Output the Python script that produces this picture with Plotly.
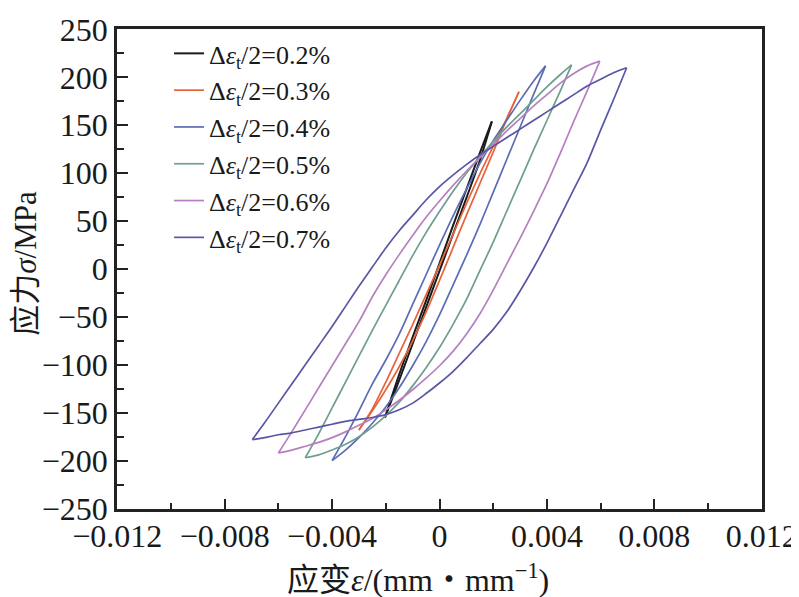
import plotly.graph_objects as go

# ---------------- data (strain in mm/mm, stress in MPa) ----------------
labels = ["0.2", "0.3", "0.4", "0.5", "0.6", "0.7"]
colors = ["#1b1b1b", "#e8623a", "#5b6db4", "#6e9e90", "#b67fc2", "#5757a6"]

# 0.2 %
a02_up_x = [-0.00203, -0.0015, -0.0010, -0.0005, 0.0, 0.0005, 0.0010, 0.0015, 0.00195]
a02_up_y = [-155, -116, -78, -40, -2, 36, 74, 113, 154]
a02_dn_x = [0.00195, 0.0015, 0.0010, 0.0005, 0.0, -0.0005, -0.0010, -0.0015, -0.00203]
a02_dn_y = [154, 121, 83, 45, 6, -33, -71, -110, -155]

# 0.3 %
a03_up_x = [-0.0030, -0.0025, -0.0020, -0.0015, -0.0010, -0.0005, 0.0, 0.0005, 0.0010, 0.0015, 0.0020, 0.0025, 0.00296]
a03_up_y = [-168, -146, -118, -88, -58, -27, 4, 36, 68, 99, 128, 157, 185]
a03_dn_x = [0.00296, 0.0025, 0.0020, 0.0015, 0.0010, 0.0005, 0.0, -0.0005, -0.0010, -0.0015, -0.0020, -0.0025, -0.0030]
a03_dn_y = [185, 156, 122, 89, 56, 22, -12, -45, -75, -102, -126, -148, -168]

# 0.4 %
a04_up_x = [-0.0040, -0.0035, -0.0030, -0.0025, -0.0020, -0.0015, -0.0010, -0.0005, 0.0, 0.0005,
            0.0010, 0.0015, 0.0020, 0.0025, 0.0030, 0.0035, 0.00395]
a04_up_y = [-200, -175, -148, -120, -95, -68, -37, -6, 25, 55, 83, 110, 134, 155, 176, 196, 212]
a04_dn_x = [0.00395, 0.0035, 0.0030, 0.0025, 0.0020, 0.0015, 0.0010, 0.0005, 0.0, -0.0005,
            -0.0010, -0.0015, -0.0020, -0.0025, -0.0030, -0.0035, -0.0040]
a04_dn_y = [212, 182, 148, 114, 80, 46, 14, -17, -48, -76, -101, -124, -144, -161, -176, -189, -200]

# 0.5 %
a05_up_x = [-0.0050, -0.0045, -0.0040, -0.0035, -0.0030, -0.0025, -0.0020, -0.0015, -0.0010, -0.0005, 0.0,
            0.0005, 0.0010, 0.0015, 0.0020, 0.0025, 0.0030, 0.0035, 0.0040, 0.0045, 0.00492]
a05_up_y = [-197, -172, -145, -118, -91, -64, -38, -12, 14, 38, 60, 81, 100, 117, 133, 148, 162, 176, 190, 203, 213]
a05_dn_x = [0.00492, 0.0045, 0.0040, 0.0035, 0.0030, 0.0025, 0.0020, 0.0015, 0.0010, 0.0005, 0.0,
            -0.0005, -0.0010, -0.0015, -0.0020, -0.0025, -0.0030, -0.0035, -0.0040, -0.0045, -0.0050]
a05_dn_y = [213, 186, 155, 124, 92, 60, 28, -2, -32, -58, -82, -103, -122, -139, -153, -165, -175, -183, -189, -194, -197]

# 0.6 %
a06_up_x = [-0.0060, -0.0055, -0.0050, -0.0045, -0.0040, -0.0035, -0.0030, -0.0025, -0.0020, -0.0015, -0.0010,
            -0.0005, 0.0, 0.0005, 0.0010, 0.0015, 0.0020, 0.0025, 0.0030, 0.0035, 0.0040, 0.0045, 0.0050,
            0.0055, 0.00597]
a06_up_y = [-192, -170, -147, -124, -101, -78, -55, -29, -6, 15, 35, 54, 71, 87, 102, 116, 130, 144, 157,
            170, 182, 194, 204, 212, 217]
a06_dn_x = [0.00597, 0.0055, 0.0050, 0.0045, 0.0040, 0.0035, 0.0030, 0.0025, 0.0020, 0.0015, 0.0010, 0.0005,
            0.0, -0.0005, -0.0010, -0.0015, -0.0020, -0.0025, -0.0030, -0.0035, -0.0040, -0.0045, -0.0050,
            -0.0055, -0.0060]
a06_dn_y = [217, 186, 154, 121, 89, 60, 32, 5, -22, -47, -68, -86, -101, -114, -126, -137, -147, -156,
            -163, -170, -176, -181, -185, -189, -192]

# 0.7 %
a07_up_x = [-0.00697, -0.0065, -0.0060, -0.0055, -0.0050, -0.0045, -0.0040, -0.0035, -0.0030, -0.0025,
            -0.0020, -0.0015, -0.0010, -0.0005, 0.0, 0.0005, 0.0010, 0.0015, 0.0020, 0.0025, 0.0030,
            0.0035, 0.0040, 0.0045, 0.0050, 0.0055, 0.0060, 0.0065, 0.00697]
a07_up_y = [-178, -160, -140, -120, -100, -80, -60, -39, -18, 2, 22, 40, 56, 72, 86, 98, 109, 119, 128,
            137, 146, 155, 164, 173, 182, 191, 198, 205, 210]
a07_dn_x = [0.00697, 0.0065, 0.0060, 0.0055, 0.0050, 0.0045, 0.0040, 0.0035, 0.0030, 0.0025, 0.0020,
            0.0015, 0.0010, 0.0005, 0.0, -0.0005, -0.0010, -0.0015, -0.0020, -0.0025, -0.0030, -0.0035,
            -0.0040, -0.0045, -0.0050, -0.0055, -0.0060, -0.0065, -0.00697]
a07_dn_y = [210, 178, 145, 111, 83, 55, 27, 1, -23, -45, -63, -78, -93, -107, -119, -130, -140, -147,
            -152, -155, -157, -159, -162, -165, -168, -171, -173, -176, -178]

x_tickvals = [-0.012, -0.008, -0.004, 0, 0.004, 0.008, 0.012]
x_ticktext = ["\u22120.012", "\u22120.008", "\u22120.004", "0", "0.004", "0.008", "0.012"]
y_tickvals = [-250, -200, -150, -100, -50, 0, 50, 100, 150, 200, 250]
y_ticktext = ["\u2212250", "\u2212200", "\u2212150", "\u2212100", "\u221250", "0", "50", "100", "150", "200", "250"]

x_title = "\u5e94\u53d8<i>\u03b5</i>/(mm\u30fbmm<sup>\u22121</sup>)"
y_title = "\u5e94\u529b<i>\u03c3</i>/MPa"

loops = [
    (a02_up_x, a02_up_y, a02_dn_x, a02_dn_y),
    (a03_up_x, a03_up_y, a03_dn_x, a03_dn_y),
    (a04_up_x, a04_up_y, a04_dn_x, a04_dn_y),
    (a05_up_x, a05_up_y, a05_dn_x, a05_dn_y),
    (a06_up_x, a06_up_y, a06_dn_x, a06_dn_y),
    (a07_up_x, a07_up_y, a07_dn_x, a07_dn_y),
]

FONT = "Liberation Serif, Times New Roman, Noto Sans CJK SC, serif"
TXT = "#1a1a1a"

fig = go.Figure()
for lab, col, (ux, uy, dx, dy) in zip(labels, colors, loops):
    name = "\u0394<i>\u03b5</i><sub>t</sub>/2=" + lab + "%"
    w = 2.0 if lab == "0.2" else 1.7
    fig.add_trace(go.Scatter(x=ux, y=uy, mode="lines", name=name, legendgroup=lab,
                             line=dict(color=col, width=w, shape="spline", smoothing=0.8)))
    fig.add_trace(go.Scatter(x=dx, y=dy, mode="lines", name=name, legendgroup=lab, showlegend=False,
                             line=dict(color=col, width=w, shape="spline", smoothing=0.8)))

axis_common = dict(showgrid=False, zeroline=False, showline=True, linewidth=2.5, linecolor="#222",
                   mirror=True, ticks="inside", tickwidth=2, tickcolor="#222", automargin=False,
                   tickfont=dict(family=FONT, size=32, color=TXT))

fig.update_xaxes(range=[-0.01201, 0.01201], tickmode="array", tickvals=x_tickvals, ticktext=x_ticktext,
                 ticklen=10, ticklabelstandoff=-3,
                 minor=dict(ticks="inside", ticklen=6, tickwidth=2, tickcolor="#222",
                            tickmode="linear", tick0=0, dtick=0.002),
                 **axis_common)
fig.update_yaxes(range=[-250.5, 250.5], tickmode="array", tickvals=y_tickvals, ticktext=y_ticktext,
                 ticklen=11,
                 minor=dict(ticks="inside", ticklen=7, tickwidth=2, tickcolor="#222",
                            tickmode="linear", tick0=0, dtick=25),
                 **axis_common)

fig.add_annotation(text=x_title, xref="paper", yref="paper", x=0.467, y=-0.144,
                   xanchor="center", yanchor="middle", showarrow=False,
                   font=dict(family=FONT, size=32, color=TXT))
fig.add_annotation(text=y_title, xref="paper", yref="paper", x=-0.143, y=0.5125,
                   xanchor="center", yanchor="middle", showarrow=False, textangle=-90,
                   font=dict(family=FONT, size=31, color=TXT))

# the page places the figure 8 px from the window's top-left corner
fig.update_layout(
    width=799, height=597,
    margin=dict(l=109, r=45, t=21, b=96, autoexpand=False),
    paper_bgcolor="white", plot_bgcolor="white",
    font=dict(family=FONT, color=TXT),
    legend=dict(x=0.0807, y=0.998, xanchor="left", yanchor="top", bgcolor="rgba(0,0,0,0)",
                font=dict(family=FONT, size=26, color=TXT), tracegroupgap=0),
)

fig.write_html("out.html")
